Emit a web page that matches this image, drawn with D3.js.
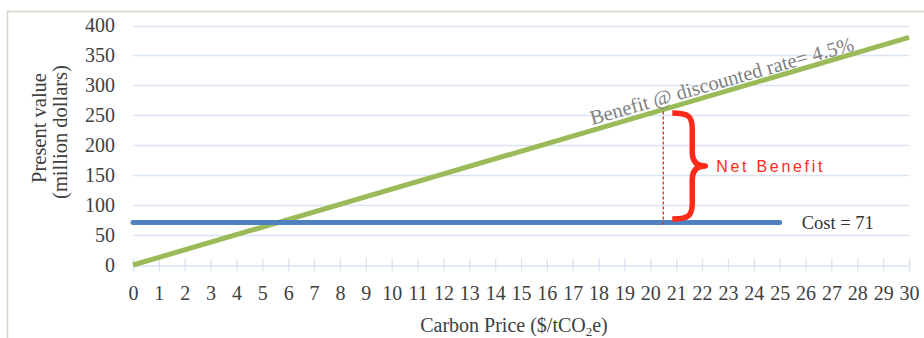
<!DOCTYPE html>
<html>
<head>
<meta charset="utf-8">
<script src="https://cdn.jsdelivr.net/npm/d3@7"></script>
<style>
  html, body { margin: 0; padding: 0; background: #fff; }
  svg { display: block; }
</style>
</head>
<body>
<svg id="chart" width="924" height="338"></svg>
<script>
// ---- data ----
const xTickValues = [0,1,2,3,4,5,6,7,8,9,10,11,12,13,14,15,16,17,18,19,20,21,22,23,24,25,26,27,28,29,30];
const yTickValues = [0,50,100,150,200,250,300,350,400];
const benefitPrice = [0, 30];
const benefitValue = [0, 380];
const costPrice = [0, 25];
const costValue = [71, 71];
const costLabel = "Cost = 71";
const benefitLabel = "Benefit @ discounted rate= 4.5%";
const netBenefitLabel = "Net Benefit";
const netBenefitPrice = [20.5];
const xTitle = "Carbon Price ($/tCO";
const yTitle1 = "Present value";
const yTitle2 = "(million dollars)";

// ---- setup ----
const svg = d3.select("#chart");
const x = d3.scaleLinear().domain([0, 30]).range([133, 909]);
const y = d3.scaleLinear().domain([0, 400]).range([265, 25.5]);
const benefitAt = d3.scaleLinear().domain(benefitPrice).range(benefitValue);

const gridColor = "#D9E4F2";
const textColor = "#404040";
const serif = "'Liberation Serif', 'Times New Roman', serif";

// frame
svg.append("path")
  .attr("d", "M7.5,338 L7.5,11.5 L924,11.5")
  .attr("fill", "none")
  .attr("stroke", "#D8D3C6")
  .attr("stroke-width", 1.5);

// gridlines
svg.append("g")
  .selectAll("line")
  .data(yTickValues.filter(d => d > 0))
  .join("line")
  .attr("x1", x(0)).attr("x2", x(30))
  .attr("y1", d => Math.round(y(d)) + 0.5).attr("y2", d => Math.round(y(d)) + 0.5)
  .attr("stroke", gridColor).attr("stroke-width", 1.3);

// x axis
const xAxis = d3.axisBottom(x).tickValues(xTickValues).tickSize(6).tickSizeOuter(0).tickPadding(14);
const gx = svg.append("g").attr("transform", `translate(0,${Math.round(y(0)) + 0.5})`).call(xAxis);
gx.select(".domain").attr("stroke", gridColor).attr("stroke-width", 1.3);
gx.selectAll(".tick line").attr("stroke", gridColor).attr("stroke-width", 1.3).attr("y1", -7);
gx.selectAll(".tick text")
  .attr("fill", textColor)
  .attr("font-family", serif)
  .attr("font-size", "20px");

// y axis labels
const yAxis = d3.axisLeft(y).tickValues(yTickValues).tickSize(0).tickPadding(18);
const gy = svg.append("g").attr("transform", `translate(${x(0)},0)`).call(yAxis);
gy.select(".domain").remove();
gy.selectAll(".tick text")
  .attr("fill", textColor)
  .attr("font-family", serif)
  .attr("font-size", "20px");

// axis titles
const xt = svg.append("text")
  .attr("x", 514).attr("y", 332)
  .attr("text-anchor", "middle")
  .attr("fill", textColor)
  .attr("font-family", serif)
  .attr("font-size", "20px");
xt.append("tspan").text(xTitle);
xt.append("tspan").attr("font-size", "13px").attr("dy", 4).text("2");
xt.append("tspan").attr("dy", -4).text("e)");

svg.append("text")
  .attr("transform", "translate(46,128) rotate(-90)")
  .attr("text-anchor", "middle")
  .attr("fill", textColor)
  .attr("font-family", serif)
  .attr("font-size", "20.5px")
  .text(yTitle1);
svg.append("text")
  .attr("transform", "translate(67,132) rotate(-90)")
  .attr("text-anchor", "middle")
  .attr("fill", textColor)
  .attr("font-family", serif)
  .attr("font-size", "20.5px")
  .text(yTitle2);

// benefit line
const line = d3.line().x(d => x(d[0])).y(d => y(d[1]));
svg.append("path")
  .datum(benefitPrice.map((p, i) => [p, benefitValue[i]]))
  .attr("d", line)
  .attr("fill", "none")
  .attr("stroke", "#9BBB59")
  .attr("stroke-width", 5);

// cost line
svg.append("path")
  .datum(costPrice.map((p, i) => [p, costValue[i]]))
  .attr("d", line)
  .attr("fill", "none")
  .attr("stroke", "#4F81BD")
  .attr("stroke-width", 5)
  .attr("stroke-linecap", "round");

// dashed drop line at chosen price
const p0 = netBenefitPrice[0];
svg.append("line")
  .attr("x1", x(p0)).attr("x2", x(p0))
  .attr("y1", y(benefitAt(p0)) + 2)
  .attr("y2", y(costValue[0]) + 4)
  .attr("stroke", "#C0392B")
  .attr("stroke-width", 1.3)
  .attr("stroke-dasharray", "3,2");

// brace
const bx0 = x(p0) + 9, bx1 = bx0 + 20, bx2 = bx0 + 33;
const byT = y(benefitAt(p0)) + 3.5, byB = y(costValue[0]) - 3.5, byM = (byT + byB) / 2;
const bracePath = `M${bx0},${byT} C${bx1 - 4},${byT} ${bx1},${byT + 3} ${bx1},${byT + 16}
  L${bx1},${byM - 14} C${bx1},${byM - 4} ${bx1 + 5},${byM} ${bx2},${byM}
  C${bx1 + 5},${byM} ${bx1},${byM + 4} ${bx1},${byM + 14}
  L${bx1},${byB - 16} C${bx1},${byB - 3} ${bx1 - 4},${byB} ${bx0},${byB}`;
svg.append("path")
  .attr("d", bracePath)
  .attr("fill", "none")
  .attr("stroke", "#FF2A1A")
  .attr("stroke-width", 5.5)
  .attr("stroke-linejoin", "round");

svg.append("text")
  .attr("x", bx2 + 11).attr("y", byM + 5.5)
  .attr("fill", "#FF2A1A")
  .attr("font-family", "'Liberation Sans', Arial, sans-serif")
  .attr("font-size", "16px")
  .attr("letter-spacing", "2.7px")
  .text(netBenefitLabel);

// cost label
svg.append("text")
  .attr("x", x(costPrice[1]) + 22).attr("y", y(costValue[1]) + 7)
  .attr("fill", "#333")
  .attr("font-family", serif)
  .attr("font-size", "18.5px")
  .text(costLabel);

// benefit label along the line
const lp = 17.75;
svg.append("text")
  .attr("transform", `translate(${x(lp)},${y(benefitAt(lp)) - 5.5}) rotate(-15.9)`)
  .attr("fill", "#7F7F7F")
  .attr("font-family", serif)
  .attr("font-size", "20.5px")
  .text(benefitLabel);
</script>
</body>
</html>
